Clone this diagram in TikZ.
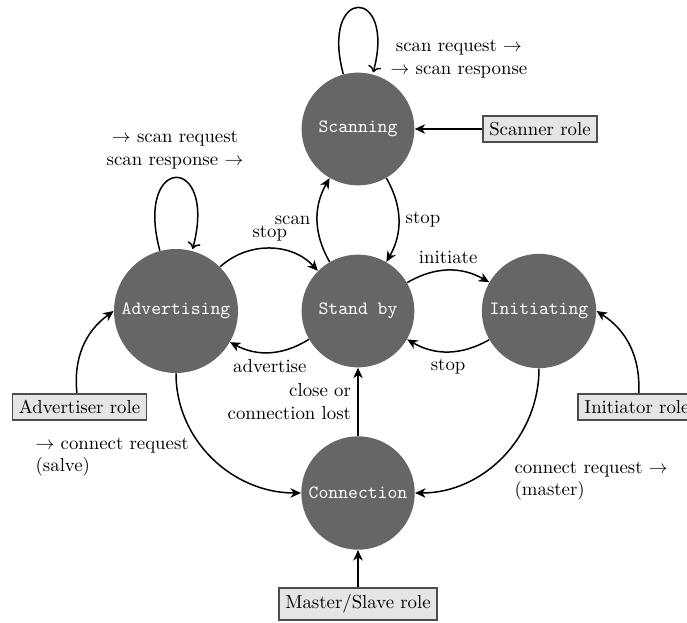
\documentclass[tikz,border=0pt]{standalone}
\usetikzlibrary{arrows.meta}
\begin{document}
\begin{tikzpicture}[x=0.532pt,y=0.532pt,
  state/.style={circle,fill=black!60,text=white,font=\ttfamily,minimum size=60pt},
  role/.style={draw=black!70,fill=black!10,line width=1pt},
  conn/.style={thick,-{Stealth[length=5.5pt,width=5pt,inset=1.6pt]}}]
\useasboundingbox (0,0) rectangle (687,622);
% states
\node[state] (scan) at (358,493) {Scanning};
\node[state] (stby) at (358,311) {Stand by};
\node[state] (adv)  at (176,311) {Advertising};
\node[state] (init) at (539,311) {Initiating};
\node[state] (cnx)  at (358,129) {Connection};
% roles
\node[role] (scanrole) at (540,493) {Scanner role};
\node[role] (advrole)  at (79.5,215) {Advertiser role};
\node[role] (initrole) at (637,215) {Initiator role};
\node[role] (msrole)   at (358,18) {Master/Slave role};
% free labels
\node[align=center] (lloopscan) at (459,563) {scan request $\rightarrow$\\$\rightarrow$ scan response};
\node[align=center] (lloopadv)  at (175,472) {$\rightarrow$ scan request\\scan response $\rightarrow$};
\node[align=left,anchor=west] (lsalve)  at (29,165) {$\rightarrow$ connect request\\(salve)};
\node[align=left,anchor=west] (lmaster) at (508,141) {connect request $\rightarrow$\\(master)};
% connectors
\path[conn]
  (scan) edge[loop above] (scan)
  (adv)  edge[loop above] (adv)
  (stby) edge[bend left=30] node[left] (lscan) {scan} (scan)
  (scan) edge[bend left=30] node[right] (lstopa) {stop} (stby)
  (adv)  edge[bend left=45] node[above] (lstopb) {stop} (stby)
  (stby) edge[bend left=30] node[below] (ladv) {advertise} (adv)
  (stby) edge[bend left=30] node[above] (linit) {initiate} (init)
  (init) edge[bend left=30] node[below] (lstopc) {stop} (stby)
  (cnx)  edge node[left,align=right] (lclose) {close or\\connection lost} (stby)
  (adv)  edge[out=-90,in=180] (cnx)
  (init) edge[out=-90,in=0] (cnx)
  (msrole) edge (cnx)
  (scanrole) edge (scan)
  (advrole) edge[bend left=30] (adv.west)
  (initrole) edge[bend right=30] (init.east);
\end{tikzpicture}
\end{document}
